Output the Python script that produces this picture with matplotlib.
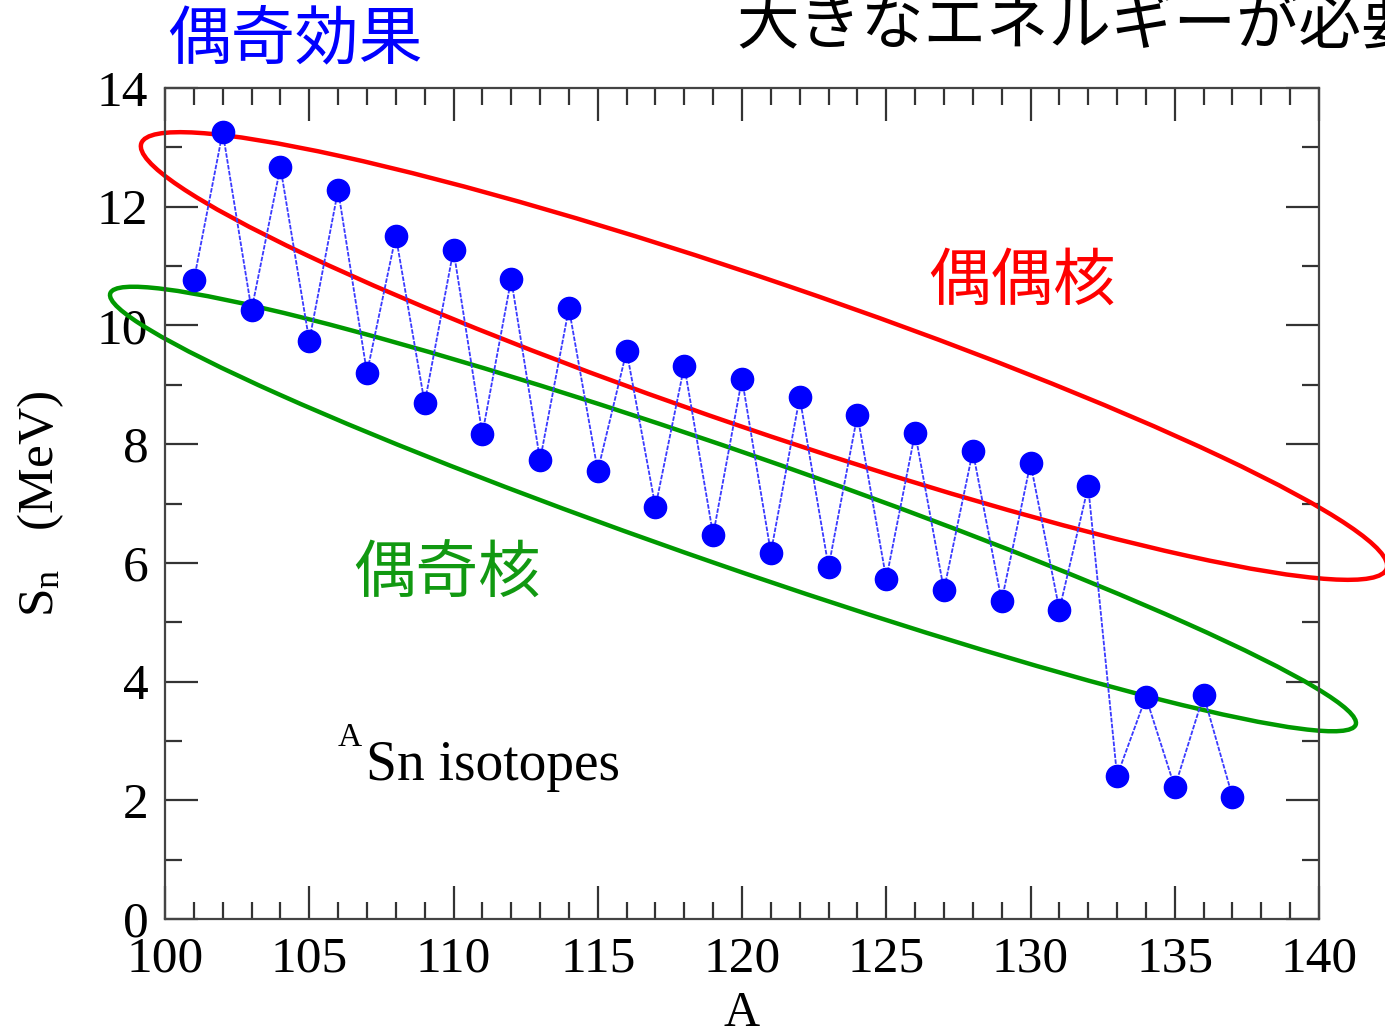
import matplotlib.pyplot as plt
import matplotlib.transforms as mtransforms
from matplotlib.patches import Ellipse
from matplotlib.ticker import MultipleLocator

# Sn isotope one-neutron separation energies
mass_number = list(range(101, 138))
sn_mev = [10.76, 13.26, 10.26, 12.67, 9.74, 12.28, 9.20, 11.51, 8.69, 11.27,
          8.17, 10.78, 7.73, 10.29, 7.55, 9.57, 6.94, 9.32, 6.47, 9.10,
          6.17, 8.79, 5.93, 8.49, 5.73, 8.19, 5.54, 7.88, 5.36, 7.68,
          5.21, 7.29, 2.41, 3.74, 2.22, 3.77, 2.06]

serif = 'Liberation Serif'
jp = ['Noto Sans CJK JP', 'DejaVu Sans']

fig = plt.figure(figsize=(13.85, 10.34), dpi=100)
ax = fig.add_axes([165 / 1385, 1 - 919 / 1034, (1319 - 165) / 1385, (919 - 88) / 1034])

ax.plot(mass_number, sn_mev, color='#3a3aff', lw=1.3, dashes=(2.5, 0.8), zorder=3)
ax.plot(mass_number, sn_mev, 'o', color='#0000ff', ms=16, zorder=4)

ax.set_xlim(100, 140)
ax.set_ylim(0, 14)
ax.xaxis.set_major_locator(MultipleLocator(5))
ax.xaxis.set_minor_locator(MultipleLocator(1))
ax.yaxis.set_major_locator(MultipleLocator(2))
ax.yaxis.set_minor_locator(MultipleLocator(1))
ax.tick_params(which='both', direction='in', top=True, right=True,
               color='#333333', width=1.6)
ax.tick_params(which='major', length=24, pad=12, labelsize=37)
ax.tick_params(which='minor', length=12)
for lab in ax.get_xticklabels() + ax.get_yticklabels():
    lab.set_fontfamily(serif)
for sp in ax.spines.values():
    sp.set_color('#444444')
    sp.set_linewidth(1.6)

ax.set_xlabel('A', fontfamily=serif, fontsize=36, labelpad=6)
ax.set_ylabel(r'$\mathregular{S_n}$   (MeV)', fontfamily=serif, fontsize=37, labelpad=22)

# pixel coordinates measured from the top-left corner of the image
pix = mtransforms.Affine2D().scale(1 / 100, -1 / 100).translate(0, 10.34) + fig.dpi_scale_trans

ax.add_patch(Ellipse((764, 356), 1316, 148, angle=18.85, fill=False,
                     edgecolor='#ff0000', lw=3.2, transform=pix, clip_on=False, zorder=2))
ax.add_patch(Ellipse((733, 509), 1318, 114, angle=19.1, fill=False,
                     edgecolor='#009900', lw=3.2, transform=pix, clip_on=False, zorder=2))

ax.text(295, 40, '偶奇効果', color='#0000ff', fontsize=46, family=jp,
        ha='center', va='center', transform=pix)
ax.text(736, 25, '大きなエネルギーが必要', color='black', fontsize=45, family=jp,
        ha='left', va='center', transform=pix, clip_on=False)
ax.text(1022, 282, '偶偶核', color='#ff0000', fontsize=45, family=jp,
        ha='center', va='center', transform=pix)
ax.text(447, 575, '偶奇核', color='#119911', fontsize=45, family=jp,
        ha='center', va='center', transform=pix)

ax.text(338, 746, 'A', fontfamily=serif, fontsize=24, transform=pix, va='baseline')
ax.text(366, 780, 'Sn isotopes', fontfamily=serif, fontsize=40, transform=pix, va='baseline')

fig.savefig('out.png', dpi=100)
